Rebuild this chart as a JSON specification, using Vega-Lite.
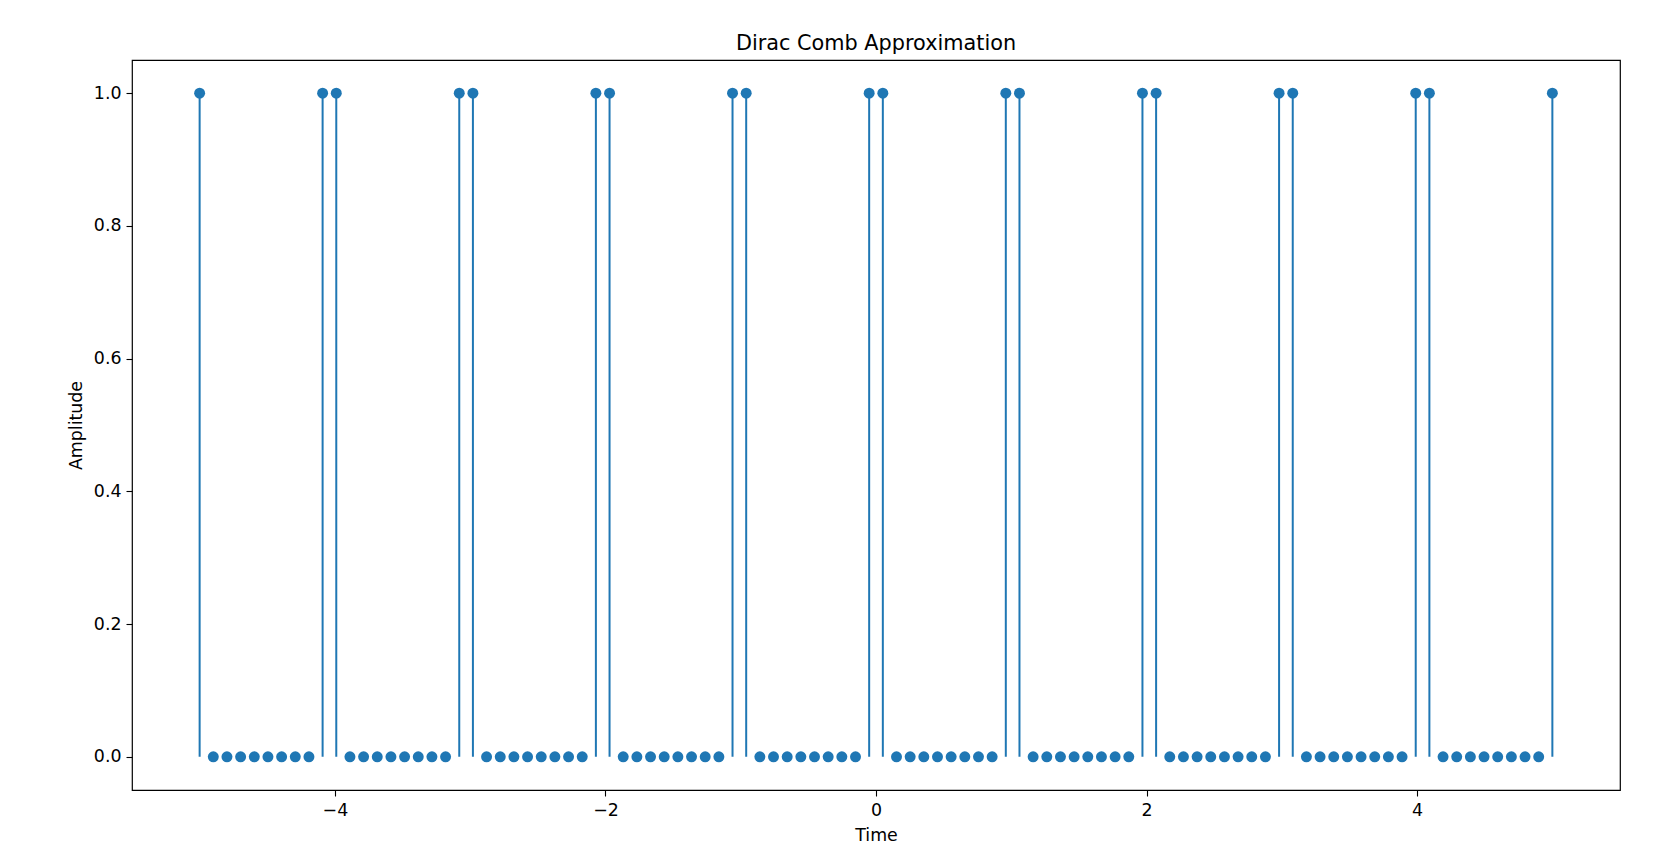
{
  "$schema": "https://vega.github.io/schema/vega-lite/v6.json",
  "width": 1488,
  "height": 730,
  "autosize": {"type": "none"},
  "padding": {"left": 132, "top": 60, "right": 55, "bottom": 67},
  "background": "white",
  "config": {
    "font": "DejaVu Sans",
    "view": {"stroke": "black", "strokeWidth": 1.2},
    "axis": {
      "grid": false,
      "domain": false,
      "tickColor": "black",
      "tickSize": 6,
      "tickWidth": 1.1,
      "labelColor": "black",
      "labelFontSize": 17.4,
      "labelFont": "DejaVu Sans",
      "titleFont": "DejaVu Sans",
      "titleFontSize": 17.4,
      "titleFontWeight": "normal",
      "titleColor": "black",
      "labelPadding": 5
    }
  },
  "title": {
    "text": "Dirac Comb Approximation",
    "fontSize": 20.8,
    "fontWeight": "normal",
    "font": "DejaVu Sans",
    "color": "black",
    "offset": 5
  },
  "data": {
    "values": [
      {"t": -5.0, "v": 1}, {"t": -4.89899, "v": 0}, {"t": -4.79798, "v": 0}, {"t": -4.69697, "v": 0}, {"t": -4.59596, "v": 0},
      {"t": -4.49495, "v": 0}, {"t": -4.39394, "v": 0}, {"t": -4.29293, "v": 0}, {"t": -4.19192, "v": 0}, {"t": -4.09091, "v": 1},
      {"t": -3.9899, "v": 1}, {"t": -3.88889, "v": 0}, {"t": -3.78788, "v": 0}, {"t": -3.68687, "v": 0}, {"t": -3.58586, "v": 0},
      {"t": -3.48485, "v": 0}, {"t": -3.38384, "v": 0}, {"t": -3.28283, "v": 0}, {"t": -3.18182, "v": 0}, {"t": -3.08081, "v": 1},
      {"t": -2.9798, "v": 1}, {"t": -2.87879, "v": 0}, {"t": -2.77778, "v": 0}, {"t": -2.67677, "v": 0}, {"t": -2.57576, "v": 0},
      {"t": -2.47475, "v": 0}, {"t": -2.37374, "v": 0}, {"t": -2.27273, "v": 0}, {"t": -2.17172, "v": 0}, {"t": -2.07071, "v": 1},
      {"t": -1.9697, "v": 1}, {"t": -1.86869, "v": 0}, {"t": -1.76768, "v": 0}, {"t": -1.66667, "v": 0}, {"t": -1.56566, "v": 0},
      {"t": -1.46465, "v": 0}, {"t": -1.36364, "v": 0}, {"t": -1.26263, "v": 0}, {"t": -1.16162, "v": 0}, {"t": -1.06061, "v": 1},
      {"t": -0.9596, "v": 1}, {"t": -0.85859, "v": 0}, {"t": -0.75758, "v": 0}, {"t": -0.65657, "v": 0}, {"t": -0.55556, "v": 0},
      {"t": -0.45455, "v": 0}, {"t": -0.35354, "v": 0}, {"t": -0.25253, "v": 0}, {"t": -0.15152, "v": 0}, {"t": -0.05051, "v": 1},
      {"t": 0.05051, "v": 1}, {"t": 0.15152, "v": 0}, {"t": 0.25253, "v": 0}, {"t": 0.35354, "v": 0}, {"t": 0.45455, "v": 0},
      {"t": 0.55556, "v": 0}, {"t": 0.65657, "v": 0}, {"t": 0.75758, "v": 0}, {"t": 0.85859, "v": 0}, {"t": 0.9596, "v": 1},
      {"t": 1.06061, "v": 1}, {"t": 1.16162, "v": 0}, {"t": 1.26263, "v": 0}, {"t": 1.36364, "v": 0}, {"t": 1.46465, "v": 0},
      {"t": 1.56566, "v": 0}, {"t": 1.66667, "v": 0}, {"t": 1.76768, "v": 0}, {"t": 1.86869, "v": 0}, {"t": 1.9697, "v": 1},
      {"t": 2.07071, "v": 1}, {"t": 2.17172, "v": 0}, {"t": 2.27273, "v": 0}, {"t": 2.37374, "v": 0}, {"t": 2.47475, "v": 0},
      {"t": 2.57576, "v": 0}, {"t": 2.67677, "v": 0}, {"t": 2.77778, "v": 0}, {"t": 2.87879, "v": 0}, {"t": 2.9798, "v": 1},
      {"t": 3.08081, "v": 1}, {"t": 3.18182, "v": 0}, {"t": 3.28283, "v": 0}, {"t": 3.38384, "v": 0}, {"t": 3.48485, "v": 0},
      {"t": 3.58586, "v": 0}, {"t": 3.68687, "v": 0}, {"t": 3.78788, "v": 0}, {"t": 3.88889, "v": 0}, {"t": 3.9899, "v": 1},
      {"t": 4.09091, "v": 1}, {"t": 4.19192, "v": 0}, {"t": 4.29293, "v": 0}, {"t": 4.39394, "v": 0}, {"t": 4.49495, "v": 0},
      {"t": 4.59596, "v": 0}, {"t": 4.69697, "v": 0}, {"t": 4.79798, "v": 0}, {"t": 4.89899, "v": 0}, {"t": 5.0, "v": 1}
    ]
  },
  "encoding": {
    "x": {
      "field": "t",
      "type": "quantitative",
      "title": "Time",
      "scale": {"domain": [-5.5, 5.5], "nice": false, "zero": false},
      "axis": {"values": [-4, -2, 0, 2, 4], "format": "d", "titlePadding": 8}
    },
    "y": {
      "field": "v",
      "type": "quantitative",
      "title": "Amplitude",
      "scale": {"domain": [-0.05, 1.05], "nice": false, "zero": false},
      "axis": {"values": [0, 0.2, 0.4, 0.6, 0.8, 1.0], "format": ".1f", "titlePadding": 8}
    }
  },
  "layer": [
    {
      "mark": {"type": "rule", "color": "#1f77b4", "strokeWidth": 2},
      "encoding": {
        "y2": {"datum": 0}
      }
    },
    {
      "mark": {"type": "point", "filled": true, "opacity": 1, "color": "#1f77b4", "size": 120, "shape": "circle"},
      "encoding": {}
    }
  ]
}
